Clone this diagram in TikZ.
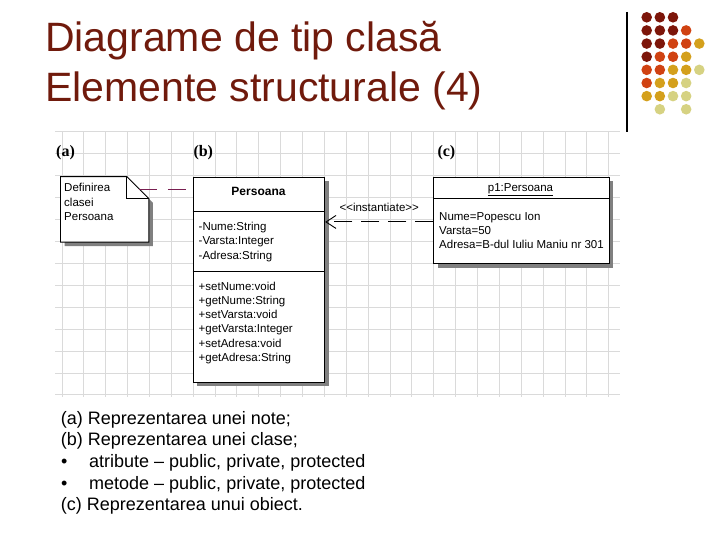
\documentclass[tikz,border=0pt]{standalone}
\usepackage{fontspec}
\setmainfont{Liberation Sans}
\newfontfamily\tagfont{Liberation Serif}
\usetikzlibrary{arrows.meta,positioning,shadows,calc}
\definecolor{titlered}{RGB}{112,26,12}
\definecolor{dotdark}{RGB}{125,22,10}
\definecolor{dotorange}{RGB}{208,66,18}
\definecolor{dotgold}{RGB}{212,160,28}
\definecolor{dotpale}{RGB}{214,210,130}
\definecolor{gridgray}{RGB}{218,218,218}
\definecolor{boxshadow}{RGB}{128,128,128}
\definecolor{linkpurple}{RGB}{120,30,80}
\tikzset{
  titletext/.style={anchor=base west,inner sep=0pt,text=titlered,font=\fontsize{41}{50}\selectfont},
  captext/.style={anchor=base west,inner sep=0pt,font=\fontsize{18}{22}\selectfont},
  tag/.style={anchor=base west,inner sep=0pt,font=\fontsize{16}{18}\tagfont\bfseries},
  umltext/.style={anchor=base west,inner sep=0pt,font=\fontsize{11.5}{14}\selectfont},
  umlbox/.style={draw,fill=white,line width=0.9pt,inner sep=0pt,anchor=north west,
    general shadow={fill=boxshadow,shadow xshift=4pt,shadow yshift=-4pt}},
  gridline/.style={draw=gridgray,line width=0.8pt},
  paldot/.style={circle,fill=#1,minimum size=10.6pt,inner sep=0pt},
  notelink/.style={draw=linkpurple,line width=0.9pt,dash pattern=on 18pt off 11pt},
  instline/.style={draw,line width=0.9pt,dash pattern=on 18pt off 9pt,
    -{Straight Barb[length=10pt,width=13pt]}}
}
\begin{document}
\begin{tikzpicture}[x=1pt,y=-1pt]
  \useasboundingbox (0,0) rectangle (720,540);

  % titlu
  \node[titletext] (title1) at (45,52) {Diagrame de tip clasă};
  \node[titletext] (title2) at (45,102) {Elemente structurale (4)};

  % bara si bulinele din colt
  \draw[line width=1.2pt] (627,12) -- (627,132);
  \foreach \cols [count=\r] in {{dotdark,dotdark,dotdark},
      {dotdark,dotdark,dotdark,dotorange},
      {dotdark,dotdark,dotorange,dotorange,dotgold},
      {dotdark,dotorange,dotorange,dotgold},
      {dotorange,dotorange,dotgold,dotgold,dotpale},
      {dotorange,dotgold,dotgold,dotpale},
      {dotgold,dotgold,dotpale,dotpale},
      {none,dotpale,none,dotpale}}
    \foreach \c [count=\i] in \cols
      \node[paldot=\c] (dot-\r-\i) at ({633.55+13.15*\i},{4.16+13.14*\r}) {};

  % caroiajul
  \foreach \gx in {0,...,25}
    \draw[gridline] ({61.9+21.87*\gx},131.7) -- ++(0,265.3);
  \foreach \gy in {0,...,12}
    \draw[gridline] (55,{131.7+21.93*\gy}) -- (620,{131.7+21.93*\gy});

  \node[tag] (taga) at (56,156.5) {(a)};
  \node[tag] (tagb) at (193.3,156.5) {(b)};
  \node[tag] (tagc) at (437.3,156.5) {(c)};

  % (a) nota
  \node[minimum width=88pt,minimum height=65pt,inner sep=0pt,anchor=north west] (note) at (60.5,176.7) {};
  \fill[boxshadow] ([shift={(4,4)}]note.north west) -- ([shift={(-18,4)}]note.north east)
    -- ([shift={(4,26)}]note.north east) -- ([shift={(4,4)}]note.south east)
    -- ([shift={(4,4)}]note.south west) -- cycle;
  \draw[fill=white,line width=0.9pt] (note.north west) -- ([shift={(-22,0)}]note.north east)
    -- ([shift={(0,22)}]note.north east) -- (note.south east) -- (note.south west) -- cycle;
  \draw[line width=0.9pt] ([shift={(-22,0)}]note.north east) -- ([shift={(-22,22)}]note.north east)
    -- ([shift={(0,22)}]note.north east);
  \node[umltext] (notel1) at (64,192) {Definirea};
  \node[umltext] (notel2) at (64,206.5) {clasei};
  \node[umltext] (notel3) at (64,221) {Persoana};

  % (b) clasa
  \node[umlbox,minimum width=131.6pt,minimum height=205pt] (cls) at (192.7,176.7) {};
  \draw[line width=0.9pt] ([shift={(0,34.6)}]cls.north west) -- ([shift={(0,34.6)}]cls.north east);
  \draw[line width=0.9pt] ([shift={(0,94.3)}]cls.north west) -- ([shift={(0,94.3)}]cls.north east);
  \node[inner sep=0pt,anchor=base,font=\fontsize{12}{14}\selectfont\bfseries] (clsname) at (258.5,196) {Persoana};
  \node[umltext] (attr1) at (198.5,230.5) {-Nume:String};
  \node[umltext] (attr2) at (198.5,244.8) {-Varsta:Integer};
  \node[umltext] (attr3) at (198.5,259.1) {-Adresa:String};
  \node[umltext] (meth1) at (198.5,290) {+setNume:void};
  \node[umltext] (meth2) at (198.5,304.3) {+getNume:String};
  \node[umltext] (meth3) at (198.5,318.6) {+setVarsta:void};
  \node[umltext] (meth4) at (198.5,332.9) {+getVarsta:Integer};
  \node[umltext] (meth5) at (198.5,347.2) {+setAdresa:void};
  \node[umltext] (meth6) at (198.5,361.5) {+getAdresa:String};

  % (c) obiectul
  \node[umlbox,minimum width=175.4pt,minimum height=86.6pt] (obj) at (433.3,176.7) {};
  \draw[line width=0.9pt] ([shift={(0,21.6)}]obj.north west) -- ([shift={(0,21.6)}]obj.north east);
  \node[umltext,anchor=base] (objname) at (520.5,191.5) {\underline{p1:Persoana}};
  \node[umltext] (val1) at (439,220.7) {Nume=Popescu Ion};
  \node[umltext] (val2) at (439,234.5) {Varsta=50};
  \node[umltext] (val3) at (439,248.3) {Adresa=B-dul Iuliu Maniu nr 301};

  % legaturi
  \coordinate (dogear) at ([shift={(-10,12.5)}]note.north east);
  \draw[notelink] (dogear) -- (dogear -| cls.west);
  \draw[instline] ([yshift=-1.5pt]obj.west) -- ([yshift=-1.5pt]obj.west -| cls.east)
    node[umltext,midway,anchor=base,yshift=10.5pt] (instlbl) {<{}<instantiate>{}>};

  % explicatii
  \node[captext] (cap1) at (60.7,424) {(a) Reprezentarea unei note;};
  \node[captext] (cap2) at (60.7,445.7) {(b) Reprezentarea unei clase;};
  \node[captext] (bul1) at (61,467.4) {•};
  \node[captext] (cap3) at (89,467.4) {atribute – public, private, protected};
  \node[captext] (bul2) at (61,489.1) {•};
  \node[captext] (cap4) at (89,489.1) {metode – public, private, protected};
  \node[captext] (cap5) at (60.7,510.8) {(c) Reprezentarea unui obiect.};
\end{tikzpicture}
\end{document}
